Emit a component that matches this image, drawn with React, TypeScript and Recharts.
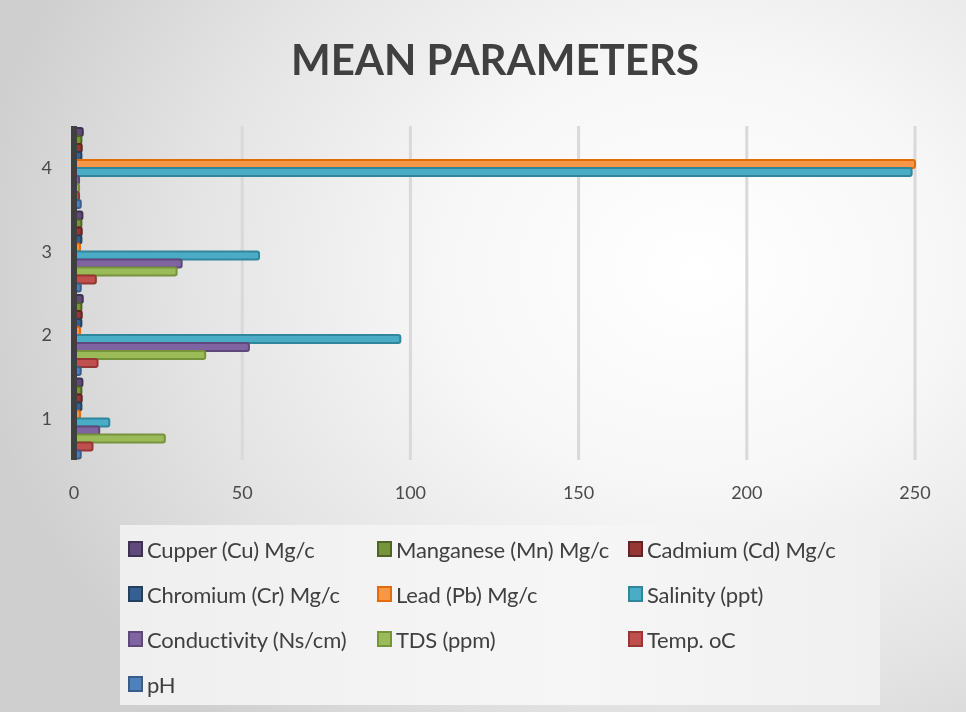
import React from "react";
import { BarChart, Bar, XAxis, YAxis, CartesianGrid } from "recharts";

const categories = ["1", "2", "3", "4"];
const cupper = [2.5, 2.6, 2.5, 2.6];
const manganese = [2.2, 2.2, 2.2, 2.2];
const cadmium = [2.3, 2.3, 2.3, 2.3];
const chromium = [2.2, 2.2, 2.2, 2.2];
const lead = [1.8, 1.8, 1.8, 250];
const salinity = [10.5, 97, 55, 249];
const conductivity = [7.5, 52, 32, 1.5];
const tds = [27, 39, 30.5, 1.5];
const temp = [5.5, 7, 6.5, 1.5];
const ph = [2.0, 2.0, 2.0, 2.0];
const xTicks = [0, 50, 100, 150, 200, 250];

const series = [
  { key: "cu", name: "Cupper (Cu) Mg/c", values: cupper, fill: "#604a7b", stroke: "#3f3151" },
  { key: "mn", name: "Manganese (Mn) Mg/c", values: manganese, fill: "#77933c", stroke: "#4f6228" },
  { key: "cd", name: "Cadmium (Cd) Mg/c", values: cadmium, fill: "#953735", stroke: "#632523" },
  { key: "cr", name: "Chromium (Cr) Mg/c", values: chromium, fill: "#376092", stroke: "#244061" },
  { key: "pb", name: "Lead (Pb) Mg/c", values: lead, fill: "#f79646", stroke: "#e36c09" },
  { key: "sal", name: "Salinity (ppt)", values: salinity, fill: "#4bacc6", stroke: "#31859c" },
  { key: "cond", name: "Conductivity (Ns/cm)", values: conductivity, fill: "#8064a2", stroke: "#5f497a" },
  { key: "tds", name: "TDS (ppm)", values: tds, fill: "#9bbb59", stroke: "#77933c" },
  { key: "temp", name: "Temp. oC", values: temp, fill: "#c0504d", stroke: "#953735" },
  { key: "ph", name: "pH", values: ph, fill: "#4f81bd", stroke: "#385d8a" },
];

const data = categories.map((c, i) => {
  const row: Record<string, string | number> = { cat: c };
  series.forEach((s) => {
    row[s.key] = s.values[i];
  });
  return row;
});

const FONT = "Lato, 'Open Sans', sans-serif";

const LegendBox = () => {
  const cols = [8, 257, 508];
  return (
    <div
      style={{
        position: "absolute",
        left: 120,
        top: 525,
        width: 760,
        height: 180,
        background: "linear-gradient(90deg, #efefef 0%, #f6f6f6 60%, #f0f0f0 100%)",
        fontFamily: FONT,
      }}
    >
      {series.map((s, i) => {
        const col = i % 3;
        const row = Math.floor(i / 3);
        return (
          <div
            key={s.key}
            style={{
              position: "absolute",
              left: cols[col],
              top: 9 + row * 45,
              display: "flex",
              alignItems: "center",
              whiteSpace: "nowrap",
              height: 30,
            }}
          >
            <span
              style={{
                display: "inline-block",
                width: 11,
                height: 12,
                background: s.fill,
                border: `2px solid ${s.stroke}`,
                marginRight: 4,
              }}
            />
            <span style={{ fontSize: 22, color: "#404040", letterSpacing: -0.2 }}>{s.name}</span>
          </div>
        );
      })}
    </div>
  );
};

export default function App() {
  return (
    <div
      style={{
        position: "fixed",
        left: 0,
        top: 0,
        width: 966,
        height: 712,
        background:
          "radial-gradient(ellipse 75% 85% at 72% 38%, #ffffff 0%, #f7f7f7 35%, #e4e4e4 70%, #cfcfcf 100%)",
        fontFamily: FONT,
      }}
    >
      <div
        style={{
          position: "absolute",
          left: 0,
          top: 34,
          width: 990,
          textAlign: "center",
          fontSize: 42,
          fontWeight: 700,
          color: "#404040",
          fontFamily: FONT,
        }}
      >
        MEAN PARAMETERS
      </div>
      <div style={{ position: "absolute", left: 0, top: 0 }}>
        <BarChart
          width={966}
          height={712}
          data={data}
          layout="vertical"
          margin={{ top: 126, right: 51, bottom: 212, left: 34 }}
          barCategoryGap={2}
          barGap={0}
        >
          <CartesianGrid
            horizontal={false}
            vertical={true}
            stroke="#d9d9d9"
            strokeWidth={3}
          />
          <XAxis
            type="number"
            domain={[0, 250]}
            ticks={xTicks}
            axisLine={false}
            tickLine={false}
            tickMargin={20}
            height={40}
            tick={{ fill: "#4a4a4a", fontSize: 18, fontFamily: FONT }}
          />
          <YAxis
            type="category"
            dataKey="cat"
            reversed
            width={40}
            axisLine={{ stroke: "#404040", strokeWidth: 6 }}
            tickLine={false}
            tickMargin={16}
            tick={{ fill: "#4a4a4a", fontSize: 18, fontFamily: FONT }}
          />
          {series.map((s) => (
            <Bar
              key={s.key}
              dataKey={s.key}
              name={s.name}
              fill={s.fill}
              stroke={s.stroke}
              strokeWidth={2}
              radius={2}
              isAnimationActive={false}
            />
          ))}
        </BarChart>
      </div>
      <LegendBox />
    </div>
  );
}
